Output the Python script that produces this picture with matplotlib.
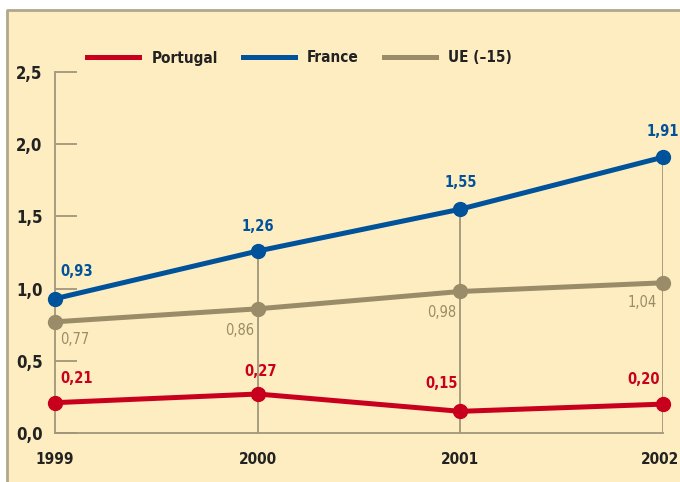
import matplotlib.pyplot as plt
from matplotlib.patches import Rectangle
from matplotlib.lines import Line2D
from matplotlib.transforms import ScaledTranslation

years = [1999, 2000, 2001, 2002]
portugal = [0.21, 0.27, 0.15, 0.20]
france = [0.93, 1.26, 1.55, 1.91]
ue15 = [0.77, 0.86, 0.98, 1.04]
yticks = [0.0, 0.5, 1.0, 1.5, 2.0, 2.5]

RED = "#c8001e"
BLUE = "#00529b"
GREY = "#9a8c68"
AXIS = "#a0967a"
PANEL = "#feedc0"
TEXT = "#222222"

plt.rcParams["font.family"] = ["DejaVu Sans"]
plt.rcParams["font.stretch"] = "condensed"

W, H = 680, 482
fig = plt.figure(figsize=(W / 100, H / 100), dpi=100)
fig.patch.set_facecolor("white")

# beige panel with grey border on left and top
fig.patches.append(Rectangle((7 / W, 0), (W - 7) / W, (H - 10) / H,
                             transform=fig.transFigure, facecolor=PANEL,
                             edgecolor="none", zorder=-2))
fig.lines.append(Line2D([7 / W, 7 / W, 1.01], [0, (H - 10) / H, (H - 10) / H],
                        transform=fig.transFigure, color="#b0a88e", lw=2,
                        zorder=-1))

# axes placed so that 1999..2002 spans x=55..663 px and 0..2.5 spans y=433..72 px
x0, x1, y0, y1 = 55, 663, 433, 72
ax = fig.add_axes([x0 / W, (H - y0) / H, (x1 - x0) / W, (y0 - y1) / H])
ax.set_facecolor("none")
ax.set_xlim(1999, 2002)
ax.set_ylim(0, 2.5)

for s in ["top", "right"]:
    ax.spines[s].set_visible(False)
for s in ["left", "bottom"]:
    ax.spines[s].set_color(AXIS)
    ax.spines[s].set_linewidth(1.3)

ax.set_yticks(yticks)
ax.set_yticklabels([f"{v:.1f}".replace(".", ",") for v in yticks])
ax.set_xticks(years)
ax.set_xticklabels([str(y) for y in years])
ax.tick_params(axis="y", direction="in", length=16, width=1.3, color=AXIS,
               pad=9, labelsize=12, labelcolor=TEXT)
ax.tick_params(axis="x", length=0, pad=14, labelsize=11, labelcolor=TEXT)
for t in ax.get_xticklabels() + ax.get_yticklabels():
    t.set_fontweight("bold")
# keep the last year inside the picture
last = ax.get_xticklabels()[-1]
last.set_transform(last.get_transform() + ScaledTranslation(-2 / 72, 0, fig.dpi_scale_trans))

# vertical guide lines up to the highest point of each year
ax.vlines(years[1:], 0, france[1:], color=AXIS, lw=1.3, zorder=1)

series = [(portugal, RED, "Portugal"), (france, BLUE, "France"), (ue15, GREY, "UE (–15)")]
for vals, col, name in series:
    ax.plot(years, vals, color=col, lw=3.6, marker="o", markersize=10,
            label=name, clip_on=False, zorder=3)


def lab(v):
    return f"{v:.2f}".replace(".", ",")


# value labels: (dx, dy) in pixels, horizontal alignment
pos_fr = [(5, 27, "left"), (0, 25, "center"), (0, 27, "center"), (0, 26, "center")]
pos_ue = [(5, -18, "left"), (-3, -22, "right"), (-4, -21, "right"), (-6, -20, "right")]
pos_pt = [(5, 24, "left"), (3, 23, "center"), (-2, 28, "right"), (-3, 25, "right")]

for vals, col, pos, weight in [(france, BLUE, pos_fr, "bold"),
                               (ue15, GREY, pos_ue, "normal"),
                               (portugal, RED, pos_pt, "bold")]:
    for x, v, (dx, dy, ha) in zip(years, vals, pos):
        ax.annotate(lab(v), (x, v), xytext=(dx * 0.72, dy * 0.72),
                    textcoords="offset points", ha=ha, va="center",
                    color=col, fontsize=10.5, fontweight=weight,
                    annotation_clip=False)

leg = ax.legend(loc="center left", bbox_to_anchor=(26 / (x1 - x0), (y0 - 58) / (y0 - y1)),
                ncol=3, frameon=False, handlelength=3.4, handletextpad=0.8,
                columnspacing=1.65, fontsize=11, borderaxespad=0)
for t in leg.get_texts():
    t.set_fontweight("bold")
    t.set_color(TEXT)
for h in leg.legend_handles:
    h.set_marker("")
    h.set_linewidth(3.6)

fig.savefig("out.png", dpi=100)
